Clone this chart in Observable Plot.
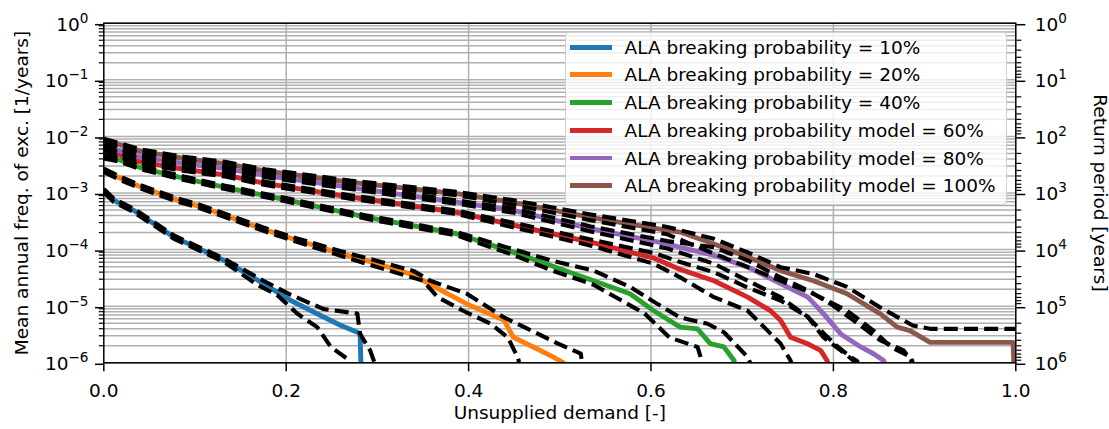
<!DOCTYPE html>
<html><head><meta charset="utf-8">
<script src="https://cdn.jsdelivr.net/npm/d3@7"></script>
<script src="https://cdn.jsdelivr.net/npm/@observablehq/plot@0.6"></script>
<style>
body{margin:0;background:#fff;}
#wrap{position:relative;width:1109px;height:429px;font-family:"DejaVu Sans",sans-serif;}
#wrap svg{position:absolute;left:0;top:0;}
#legend{position:absolute;left:565px;top:31.5px;width:442px;height:173px;border:1.5px solid #d0d0d0;border-radius:4px;background:rgba(255,255,255,0.8);box-sizing:border-box;}
.row{position:absolute;left:3.5px;height:28px;display:flex;align-items:center;font-size:18.5px;color:#000;white-space:nowrap;font-family:"DejaVu Sans",sans-serif;}
.sw{width:42px;height:4.8px;margin-right:13px;}
</style></head>
<body><div id="wrap"></div>
<script>
// ---- data (exponents of the mean annual frequency, log10) ----
const names = ["ALA breaking probability = 10%","ALA breaking probability = 20%","ALA breaking probability = 40%","ALA breaking probability model = 60%","ALA breaking probability model = 80%","ALA breaking probability model = 100%"];
const colors = ["#1f77b4","#ff7f0e","#2ca02c","#d62728","#9467bd","#8c564b"];
const xTicks = [0, 0.2, 0.4, 0.6, 0.8, 1.0];
const freqExp = [0,-1,-2,-3,-4,-5,-6];
const returnExp = [0,1,2,3,4,5,6];
const minorMult = [2,3,4,5,6,7,8,9];

const blueX = [0,0.011,0.033,0.077,0.132,0.175,0.205,0.241,0.26,0.278,0.281,0.282];
const blueE = [-2.96,-3.13,-3.31,-3.78,-4.19,-4.60,-4.90,-5.19,-5.34,-5.46,-5.50,-6.05];
const blueUpX = [0,0.011,0.033,0.077,0.132,0.175,0.205,0.241,0.278,0.281,0.292,0.296,0.298];
const blueUpE = [-2.93,-3.10,-3.28,-3.75,-4.16,-4.55,-4.80,-5.05,-5.13,-5.49,-5.78,-5.96,-6.05];
const blueLoX = [0,0.011,0.033,0.077,0.132,0.168,0.19,0.212,0.234,0.249,0.267,0.27];
const blueLoE = [-2.99,-3.16,-3.34,-3.81,-4.22,-4.62,-4.80,-5.13,-5.37,-5.72,-5.93,-6.05];

const orangeX = [0,0.018,0.04,0.082,0.104,0.168,0.205,0.26,0.30,0.34,0.358,0.398,0.439,0.449,0.471,0.493,0.504,0.506];
const orangeE = [-2.6,-2.74,-2.89,-3.13,-3.23,-3.6,-3.8,-4.07,-4.25,-4.45,-4.62,-4.96,-5.25,-5.55,-5.72,-5.90,-6.0,-6.05];
const orangeUpX = [0,0.018,0.04,0.082,0.104,0.168,0.205,0.26,0.30,0.34,0.358,0.398,0.439,0.461,0.498,0.523,0.525];
const orangeUpE = [-2.57,-2.71,-2.86,-3.10,-3.20,-3.57,-3.77,-4.03,-4.20,-4.38,-4.55,-4.78,-5.20,-5.37,-5.66,-5.84,-6.05];
const orangeLoX = [0,0.018,0.04,0.082,0.104,0.168,0.205,0.26,0.30,0.35,0.366,0.394,0.424,0.443,0.45,0.454,0.456];
const orangeLoE = [-2.63,-2.77,-2.92,-3.16,-3.26,-3.63,-3.83,-4.11,-4.31,-4.55,-4.84,-5.08,-5.31,-5.55,-5.78,-5.90,-6.05];

const greenX = [0,0.018,0.04,0.088,0.133,0.2,0.289,0.387,0.45,0.49,0.537,0.577,0.603,0.632,0.651,0.665,0.68,0.691,0.692];
const greenE = [-2.36,-2.42,-2.55,-2.74,-2.9,-3.12,-3.43,-3.72,-4.05,-4.28,-4.55,-4.78,-5.08,-5.37,-5.40,-5.66,-5.72,-5.96,-6.05];
const greenUpX = [0,0.018,0.04,0.088,0.133,0.2,0.289,0.387,0.45,0.49,0.537,0.577,0.606,0.632,0.662,0.68,0.706,0.71];
const greenUpE = [-2.33,-2.39,-2.52,-2.71,-2.87,-3.09,-3.40,-3.69,-4.00,-4.19,-4.37,-4.66,-4.95,-5.20,-5.31,-5.46,-5.90,-6.05];
const greenLoX = [0,0.018,0.04,0.088,0.133,0.2,0.289,0.387,0.45,0.49,0.537,0.593,0.62,0.651,0.655,0.658];
const greenLoE = [-2.39,-2.45,-2.58,-2.77,-2.93,-3.15,-3.46,-3.75,-4.10,-4.36,-4.62,-5.13,-5.55,-5.72,-5.93,-6.05];

const redX = [0,0.018,0.04,0.088,0.133,0.177,0.27,0.387,0.45,0.534,0.603,0.632,0.669,0.706,0.731,0.742,0.753,0.771,0.786,0.793,0.795];
const redE = [-2.22,-2.33,-2.45,-2.58,-2.68,-2.83,-3.07,-3.34,-3.57,-3.87,-4.15,-4.35,-4.55,-4.84,-5.08,-5.25,-5.55,-5.66,-5.78,-5.96,-6.05];
const redUpX = [0,0.018,0.04,0.088,0.133,0.177,0.27,0.387,0.45,0.534,0.603,0.632,0.669,0.706,0.742,0.772,0.79,0.805,0.819,0.826,0.828];
const redUpE = [-2.19,-2.30,-2.42,-2.55,-2.65,-2.80,-3.04,-3.31,-3.53,-3.82,-4.06,-4.22,-4.40,-4.67,-4.90,-5.19,-5.49,-5.72,-5.90,-5.97,-6.05];
const redLoX = [0,0.018,0.04,0.088,0.133,0.177,0.27,0.387,0.45,0.534,0.603,0.632,0.669,0.706,0.724,0.742,0.753,0.755];
const redLoE = [-2.25,-2.36,-2.48,-2.61,-2.71,-2.86,-3.10,-3.37,-3.61,-3.93,-4.25,-4.49,-4.84,-5.08,-5.37,-5.66,-5.96,-6.05];

const purpleX = [0,0.018,0.04,0.088,0.133,0.177,0.27,0.387,0.45,0.534,0.618,0.632,0.669,0.706,0.742,0.772,0.789,0.808,0.83,0.844,0.855,0.857];
const purpleE = [-2.14,-2.26,-2.36,-2.48,-2.57,-2.69,-2.90,-3.16,-3.31,-3.63,-3.90,-3.96,-4.10,-4.31,-4.60,-4.84,-5.13,-5.49,-5.72,-5.84,-5.96,-6.05];
const purpleUpX = [0,0.018,0.04,0.088,0.133,0.177,0.27,0.387,0.45,0.534,0.618,0.669,0.706,0.742,0.772,0.797,0.822,0.852,0.877,0.885,0.888];
const purpleUpE = [-2.11,-2.23,-2.33,-2.45,-2.54,-2.66,-2.87,-3.13,-3.28,-3.59,-3.85,-3.96,-4.19,-4.49,-4.72,-4.96,-5.25,-5.61,-5.78,-5.96,-6.05];
const purpleLoX = [0,0.018,0.04,0.088,0.133,0.177,0.27,0.387,0.45,0.534,0.618,0.669,0.706,0.742,0.772,0.789,0.808,0.822,0.825];
const purpleLoE = [-2.17,-2.29,-2.39,-2.51,-2.60,-2.72,-2.93,-3.19,-3.35,-3.68,-3.98,-4.25,-4.55,-4.84,-5.19,-5.55,-5.78,-5.96,-6.05];

const brownX = [0,0.018,0.04,0.088,0.133,0.177,0.27,0.387,0.45,0.534,0.618,0.632,0.669,0.706,0.742,0.778,0.815,0.851,0.87,0.884,0.906,0.997,0.998];
const brownE = [-2.07,-2.15,-2.26,-2.39,-2.48,-2.61,-2.81,-3.01,-3.17,-3.43,-3.66,-3.69,-3.90,-4.13,-4.37,-4.55,-4.78,-5.13,-5.37,-5.43,-5.64,-5.64,-6.05];
const brownUpX = [0,0.018,0.04,0.088,0.133,0.177,0.27,0.387,0.45,0.534,0.618,0.669,0.706,0.742,0.778,0.815,0.851,0.887,0.906,1.0];
const brownUpE = [-2.04,-2.12,-2.23,-2.36,-2.45,-2.58,-2.78,-2.98,-3.13,-3.38,-3.60,-3.81,-4.05,-4.31,-4.43,-4.66,-5.02,-5.34,-5.40,-5.40];
const brownLoX = [0,0.018,0.04,0.088,0.133,0.177,0.27,0.387,0.45,0.534,0.618,0.669,0.706,0.742,0.778,0.815,0.844,0.863,0.885,0.888];
const brownLoE = [-2.10,-2.18,-2.29,-2.42,-2.51,-2.64,-2.84,-3.04,-3.21,-3.48,-3.73,-4.07,-4.31,-4.55,-4.78,-5.08,-5.43,-5.72,-5.90,-6.05];

// ---- build tables ----
const toRows = (xs, es, id) => xs.map((x, i) => ({x, f: Math.pow(10, es[i]), id}));
const meanSets = [
  toRows(blueX, blueE, "m0"), toRows(orangeX, orangeE, "m1"), toRows(greenX, greenE, "m2"),
  toRows(redX, redE, "m3"), toRows(purpleX, purpleE, "m4"), toRows(brownX, brownE, "m5")
];
const boundRows = [
  toRows(blueUpX, blueUpE, "u0"), toRows(blueLoX, blueLoE, "l0"),
  toRows(orangeUpX, orangeUpE, "u1"), toRows(orangeLoX, orangeLoE, "l1"),
  toRows(greenUpX, greenUpE, "u2"), toRows(greenLoX, greenLoE, "l2"),
  toRows(redUpX, redUpE, "u3"), toRows(redLoX, redLoE, "l3"),
  toRows(purpleUpX, purpleUpE, "u4"), toRows(purpleLoX, purpleLoE, "l4"),
  toRows(brownUpX, brownUpE, "u5"), toRows(brownLoX, brownLoE, "l5")
].flat();

const majorF = freqExp.map(e => Math.pow(10, e));
const minorF = freqExp.filter(e => e < 0).flatMap(e => minorMult.map(m => m * Math.pow(10, e)));
const rightMinorF = returnExp.filter(e => e < 6).flatMap(e => minorMult.map(m => 1 / (m * Math.pow(10, e))));
const gridY = majorF.concat(minorF);
const gridX = xTicks.filter(v => v > 0 && v < 1);
const sup = n => (n < 0 ? "\u2212" + (-n) : "" + n);

const chart = Plot.plot({
  width: 1109, height: 429,
  marginLeft: 103.3, marginRight: 93.7, marginTop: 22.7, marginBottom: 66.7,
  style: {fontFamily: "DejaVu Sans", fontSize: "18.5px", background: "transparent", color: "black", overflow: "visible"},
  x: {domain: [0, 1], label: null},
  y: {type: "log", domain: [1e-6, 1], label: null},
  marks: [
    Plot.ruleY(gridY, {stroke: "#b0b0b0", strokeWidth: 1.5}),
    Plot.ruleX(gridX, {stroke: "#b0b0b0", strokeWidth: 1.5}),
    ...meanSets.map((d, i) => Plot.line(d, {x: "x", y: "f", stroke: colors[i], strokeWidth: 4.9, clip: true, strokeLinecap: "butt"})),
    Plot.line(boundRows, {x: "x", y: "f", z: "id", stroke: "black", strokeWidth: 4.1, strokeDasharray: "14,6.2", strokeLinecap: "butt", clip: true}),
    Plot.frame({stroke: "black", strokeWidth: 1.5}),
    Plot.axisY(majorF, {tickSize: 8.3, tickPadding: 7, strokeWidth: 1.5, tickFormat: f => "10^" + sup(Math.round(Math.log10(f))), label: null, dy: 1.5}),
    Plot.axisY(minorF, {tickSize: 4.5, strokeWidth: 1.2, tickFormat: () => "", label: null}),
    Plot.axisY(majorF, {anchor: "right", tickSize: 9, tickPadding: 10, strokeWidth: 1.5, tickFormat: f => "10^" + sup(Math.round(-Math.log10(f))), label: null, dy: 1.5}),
    Plot.axisY(rightMinorF, {anchor: "right", tickSize: 5, strokeWidth: 1.2, tickFormat: () => "", label: null}),
    Plot.axisX(xTicks, {tickSize: 9, tickPadding: 12, strokeWidth: 1.5, tickFormat: d3.format(".1f"), label: null}),
    Plot.text(["Mean annual freq. of exc. [1/years]"], {frameAnchor: "left", textAnchor: "middle", lineAnchor: "middle", rotate: -90, dx: -82, text: d => d, fontSize: 18.5}),
    Plot.text(["Return period [years]"], {frameAnchor: "right", textAnchor: "middle", lineAnchor: "middle", rotate: 90, dx: 84, text: d => d, fontSize: 18.5}),
    Plot.text(["Unsupplied demand [-]"], {frameAnchor: "bottom", textAnchor: "middle", lineAnchor: "middle", dy: 50, text: d => d, fontSize: 18.5})
  ]
});

// superscript exponents on the log tick labels
const ns = "http://www.w3.org/2000/svg";
chart.querySelectorAll("text").forEach(t => {
  const m = /^10\^(.+)$/.exec(t.textContent);
  if (!m) return;
  t.textContent = "";
  const a = document.createElementNS(ns, "tspan"); a.textContent = "10";
  const b = document.createElementNS(ns, "tspan");
  b.setAttribute("dy", "-8"); b.setAttribute("font-size", "13.6px"); b.textContent = m[1];
  t.append(a, b);
});

const wrap = document.getElementById("wrap");
wrap.appendChild(chart);

// legend
const legend = document.createElement("div");
legend.id = "legend";
names.forEach((n, i) => {
  const row = document.createElement("div");
  row.className = "row";
  row.style.top = (14.7 + 27.7 * i - 14) + "px";
  const sw = document.createElement("div");
  sw.className = "sw"; sw.style.background = colors[i];
  const tx = document.createElement("span"); tx.textContent = n;
  row.append(sw, tx);
  legend.appendChild(row);
});
wrap.appendChild(legend);
</script>
</body></html>
